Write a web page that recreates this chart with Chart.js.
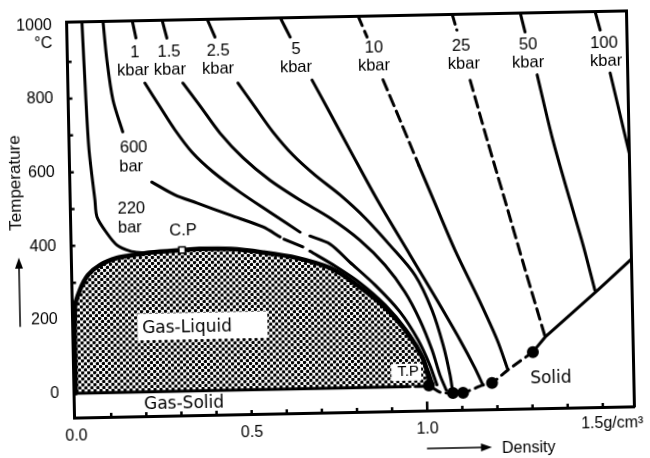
<!DOCTYPE html>
<html>
<head>
<meta charset="utf-8">
<script src="https://cdn.jsdelivr.net/npm/chart.js@4.4.0/dist/chart.umd.min.js"></script>
<style>
  html, body { margin: 0; padding: 0; background: #fff; overflow: hidden; }
  #wrap { position: absolute; left: 0; top: 0; width: 650px; height: 480px;
          transform-origin: 351px 214px; transform: rotate(-1.15deg); }
</style>
</head>
<body>
<div id="wrap"><canvas id="phaseChart" width="650" height="480"></canvas></div>
<script>
// Water: temperature against density, isobars, two-phase dome and melting line.
// null in a series breaks the line (gaps where the labels sit).

const domeRho = [0, 0.003, 0.018, 0.042, 0.077, 0.125, 0.171, 0.22, 0.311, 0.36, 0.45, 0.541, 0.638, 0.732, 0.79, 0.884, 0.952, 0.99, 1.006, 1.008];
const domeT   = [0, 234, 280, 320, 347, 365, 372, 378, 383, 385, 383, 372, 355, 326, 291, 217, 140, 77, 22, 0];

const baseRho = [0, 0.93];
const baseT   = [0, 0];
const baseDashRho = [0.93, 1.0];
const baseDashT   = [0, 0];

const bar220Rho = [0.039, 0.046, 0.052, 0.066, 0.071, 0.098, 0.126, 0.163, 0.2];
const bar220T   = [1010, 795, 660, 523, 477, 433, 400, 383, 377];

const bar600Rho = [0.099, 0.108, 0.123, 0.149, null, 0.229, 0.294, 0.356, 0.45, 0.543, 0.591, null, 0.602, 0.655, null, 0.675, 0.746, 0.816, 0.886, 0.945, 0.982, 1.006, 1.018];
const bar600T   = [1010, 903, 794, 707, null, 569, 533, 510, 475, 441, 413, null, 407, 385, null, 373, 331, 284, 223, 154, 93, 39, 3];

const kbar1Rho = [0.182, 0.192, null, 0.215, 0.257, 0.298, 0.345, 0.404, 0.479, 0.563, 0.648, null, 0.676, 0.733, 0.788, 0.859, 0.928, 0.978, 1.01, 1.029];
const kbar1T   = [1010, 961, null, 838, 772, 709, 648, 593, 537, 481, 425, null, 414, 391, 341, 277, 203, 126, 57, 3];

const kbar15Rho = [0.267, 0.28, null, 0.323, 0.37, 0.426, 0.49, 0.565, 0.65, 0.734, 0.818, 0.888, 0.943, 0.984, 1.017, 1.038, 1.055];
const kbar15T   = [1010, 959, null, 836, 774, 698, 630, 568, 512, 462, 400, 331, 257, 180, 98, 30, -11];

const kbar25Rho = [0.395, 0.417, null, 0.48, 0.527, 0.577, 0.632, 0.694, 0.764, 0.834, 0.903, 0.973, 1.019, 1.049, 1.067, 1.074];
const kbar25T   = [1010, 959, null, 833, 767, 698, 635, 579, 524, 460, 385, 302, 207, 111, 29, -20];

const kbar5Rho = [0.603, 0.631, null, 0.691, 0.74, 0.795, 0.87, 0.96, 1.034, 1.097, 1.138, 1.16];
const kbar5T   = [1010, 955, null, 837, 747, 645, 508, 357, 233, 124, 47, 0];

const kbar10DashRho = [0.825, 0.85, null, 0.893, 0.939, 0.99];
const kbar10DashT   = [1010, 951, null, 834, 724, 600];
const kbar10Rho = [0.99, 1.03, 1.088, 1.154, 1.203, 1.232];
const kbar10T   = [600, 505, 368, 231, 122, 40];

const kbar25hRho = [1.093, 1.106, null, 1.141, 1.186, 1.233, 1.287, 1.34];
const kbar25hT   = [1010, 965, null, 828, 665, 501, 310, 127];

const kbar50Rho = [1.287, 1.3, null, 1.332, 1.373, 1.418, 1.453, 1.484];
const kbar50T   = [1010, 956, null, 839, 661, 498, 375, 252];

const kbar100Rho = [1.5, 1.514, null, 1.54, 1.566, 1.59];
const kbar100T   = [1010, 957, null, 840, 726, 620];

const meltRho = [1.59, 1.493, 1.34, 1.304];
const meltT   = [334, 252, 127, 87];
const meltDashRho = [1.304, 1.232, 1.186, 1.16, 1.103, 1.074, 1.037, 1.006];
const meltDashT   = [87, 40, 5, 0, -20, -20, -17, 2];

const tripleRho = [1.006, 1.074, 1.103, 1.186, 1.304];
const tripleT   = [2, -20, -20, 5, 87];

const critRho = [0.311];
const critT   = [383];

const xTickLabels = ['0.0', '0.5', '1.0'];
const xTickValues = [0, 0.5, 1.0];
const yTickValues = [0, 200, 400, 600, 800, 1000];

// isobar captions, placed in data units
const notes = [
  ['1', 0.188, 920, 'center'], ['kbar', 0.182, 871, 'center'],
  ['1.5', 0.285, 920, 'center'], ['kbar', 0.287, 871, 'center'],
  ['2.5', 0.425, 920, 'center'], ['kbar', 0.424, 871, 'center'],
  ['5', 0.647, 920, 'center'], ['kbar', 0.646, 871, 'center'],
  ['10', 0.869, 920, 'center'], ['kbar', 0.868, 871, 'center'],
  ['25', 1.117, 920, 'center'], ['kbar', 1.124, 871, 'center'],
  ['50', 1.308, 920, 'center'], ['kbar', 1.307, 871, 'center'],
  ['100', 1.524, 920, 'center'], ['kbar', 1.529, 871, 'center'],
  ['600', 0.14, 663, 'left'], ['bar', 0.137, 611, 'left'],
  ['220', 0.13, 498, 'left'], ['bar', 0.13, 446, 'left'],
  ['C.P', 0.315, 435, 'center']
];

// region names
const regions = [
  ['Gas-Liquid', 0.321, 171],
  ['Gas-Solid', 0.308, -35],
  ['Solid', 1.354, 15]
];

function pts(xs, ys) {
  return xs.map((v, i) => ({ x: v, y: ys[i] }));
}

function makeStipple() {
  const c = document.createElement('canvas');
  c.width = 6; c.height = 6;
  const g = c.getContext('2d');
  g.fillStyle = '#fff';
  g.fillRect(0, 0, 6, 6);
  g.fillStyle = '#000';
  [[1.5, 1.5], [4.5, 4.5]].forEach(([cx, cy]) => {
    g.beginPath();
    g.arc(cx, cy, 1.75, 0, Math.PI * 2);
    g.fill();
  });
  return g.createPattern(c, 'repeat');
}

function line(rho, t, extra = {}) {
  return Object.assign({
    data: pts(rho, t),
    borderColor: '#000',
    borderWidth: 3,
    pointRadius: 0,
    fill: false,
    tension: 0.3,
    borderCapStyle: 'round',
    spanGaps: false
  }, extra);
}

const FONT = '"Liberation Sans", Arial, sans-serif';
const WIDE = '"DejaVu Sans", sans-serif';

const annotate = {
  id: 'annotate',
  afterDatasetsDraw(chart) {
    const { ctx, chartArea: a, scales: { x, y } } = chart;
    const px = v => x.getPixelForValue(v);
    const py = v => y.getPixelForValue(v);
    ctx.save();

    // white patches inside the stippled dome
    ctx.fillStyle = '#fff';
    ctx.fillRect(px(0.18), py(212), px(0.55) - px(0.18), py(140) - py(212));
    ctx.fillRect(px(0.9), py(62), px(0.985) - px(0.9), py(16) - py(62));

    // inward tick marks
    ctx.strokeStyle = '#000';
    ctx.lineWidth = 2.5;
    ctx.beginPath();
    for (let v = 1; v <= 15; v++) {
      const xv = px(v / 10);
      ctx.moveTo(xv, a.bottom);
      ctx.lineTo(xv, a.bottom - (v === 10 ? 9 : 4));
    }
    for (let t = 100; t <= 900; t += 100) {
      ctx.moveTo(a.left, py(t));
      ctx.lineTo(a.left + 4, py(t));
    }
    ctx.stroke();

    ctx.fillStyle = '#000';
    ctx.textBaseline = 'middle';

    ctx.font = '16.5px ' + FONT;
    notes.forEach(([txt, r, t, align]) => {
      ctx.textAlign = align;
      ctx.fillText(txt, px(r), py(t));
    });

    ctx.font = '17px ' + WIDE;
    ctx.textAlign = 'center';
    regions.forEach(([txt, r, t]) => ctx.fillText(txt, px(r), py(t)));
    ctx.font = '15px ' + FONT;
    ctx.fillText('T.P', px(0.948), py(39));

    // y tick labels
    ctx.font = '16px ' + FONT;
    ctx.textAlign = 'right';
    yTickValues.forEach(t => ctx.fillText(String(t), a.left - 15, py(t)));
    ctx.fillText('°C', a.left - 15, py(1000) + 18);

    // x tick labels
    ctx.textAlign = 'center';
    xTickValues.forEach((v, i) => ctx.fillText(xTickLabels[i], px(v), a.bottom + 19));
    ctx.textAlign = 'left';
    ctx.fillText('1.5g/cm³', px(1.5) - 22, a.bottom + 17);

    // density axis title with arrow
    const ay = a.bottom + 38;
    const ax0 = px(1.0) - 1, ax1 = px(1.0) + 64;
    ctx.lineWidth = 1.5;
    ctx.beginPath();
    ctx.moveTo(ax0, ay);
    ctx.lineTo(ax1 - 8, ay);
    ctx.stroke();
    ctx.beginPath();
    ctx.moveTo(ax1, ay);
    ctx.lineTo(ax1 - 11, ay - 4);
    ctx.lineTo(ax1 - 11, ay + 4);
    ctx.closePath();
    ctx.fill();
    ctx.fillText('Density', ax1 + 10, ay + 2);

    // temperature axis title with arrow
    ctx.save();
    ctx.translate(16, py(574));
    ctx.rotate(-Math.PI / 2);
    ctx.textAlign = 'center';
    ctx.font = '17px ' + FONT;
    ctx.fillText('Temperature', 0, 0);
    ctx.restore();
    const tx = 18, ty0 = py(183), ty1 = py(371);
    ctx.lineWidth = 1.5;
    ctx.beginPath();
    ctx.moveTo(tx, ty0);
    ctx.lineTo(tx, ty1 + 8);
    ctx.stroke();
    ctx.beginPath();
    ctx.moveTo(tx, ty1);
    ctx.lineTo(tx - 4, ty1 + 11);
    ctx.lineTo(tx + 4, ty1 + 11);
    ctx.closePath();
    ctx.fill();

    ctx.restore();
  }
};

const frameAxis = (position) => ({
  type: 'linear',
  position,
  grid: { drawOnChartArea: false, drawTicks: false },
  border: { display: true, width: 3, color: '#000' },
  ticks: { display: false }
});

const scales = {
  x: Object.assign(frameAxis('bottom'), { min: -0.004, max: 1.59 }),
  y: Object.assign(frameAxis('left'), { min: -66, max: 1009 }),
  x2: Object.assign(frameAxis('top'), { min: -0.004, max: 1.59 }),
  y2: Object.assign(frameAxis('right'), { min: -66, max: 1009 })
};

new Chart(document.getElementById('phaseChart'), {
  type: 'line',
  data: {
    datasets: [
      line(critRho, critT, { showLine: false, pointStyle: 'rect', pointRadius: 4.5,
        pointBackgroundColor: '#fff', pointBorderColor: '#000', pointBorderWidth: 1.5 }),
      line(tripleRho, tripleT, { showLine: false, pointRadius: 4.5,
        pointBackgroundColor: '#000', pointBorderColor: '#000' }),
      line(meltRho, meltT, { tension: 0 }),
      line(meltDashRho, meltDashT, { tension: 0.2, borderDash: [9, 6] }),
      line(bar220Rho, bar220T),
      line(bar600Rho, bar600T),
      line(kbar1Rho, kbar1T),
      line(kbar15Rho, kbar15T),
      line(kbar25Rho, kbar25T),
      line(kbar5Rho, kbar5T),
      line(kbar10DashRho, kbar10DashT, { borderDash: [11, 6] }),
      line(kbar10Rho, kbar10T),
      line(kbar25hRho, kbar25hT, { borderDash: [11, 6] }),
      line(kbar50Rho, kbar50T),
      line(kbar100Rho, kbar100T),
      line(baseRho, baseT, { tension: 0 }),
      line(baseDashRho, baseDashT, { tension: 0, borderDash: [8, 5] }),
      line(domeRho, domeT, { borderWidth: 4.5, fill: { value: 0 },
        backgroundColor: makeStipple(), tension: 0.3 })
    ]
  },
  options: {
    responsive: false,
    maintainAspectRatio: false,
    animation: false,
    events: [],
    layout: { padding: { left: 70.7, right: 19.5, top: 16, bottom: 68 } },
    plugins: { legend: { display: false }, tooltip: { enabled: false } },
    scales
  },
  plugins: [annotate]
});
</script>
</body>
</html>
